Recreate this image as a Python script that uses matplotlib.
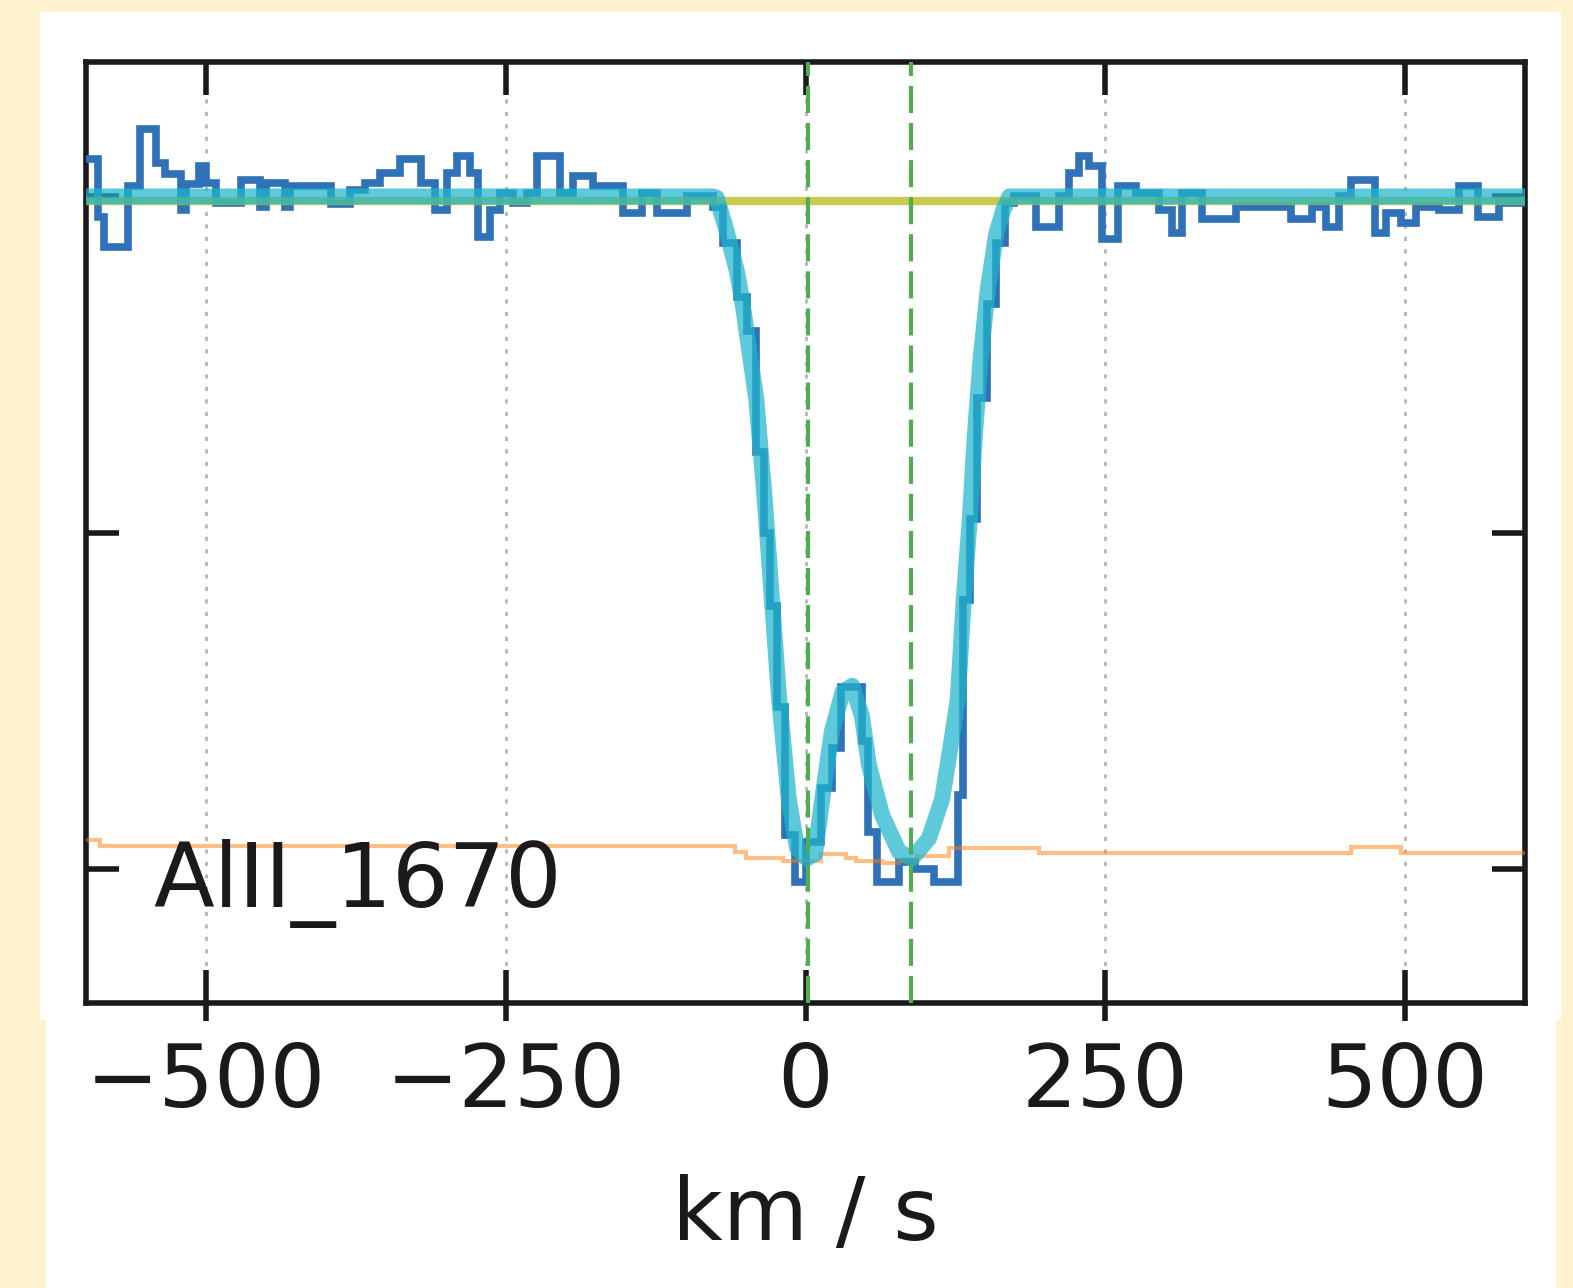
import numpy as np
import matplotlib
matplotlib.use("Agg")
import matplotlib.pyplot as plt
from matplotlib.patches import Rectangle

# ---- data (velocity in km/s, normalised flux) ----
flux_edges = [-600, -590, -585, -565, -555, -542, -534, -521, -517, -506, -500, -492,
              -471, -455, -450, -434, -430, -396, -380, -367, -355, -338, -321, -309,
              -299, -291, -280, -273, -263, -255, -244, -232, -224, -205, -194, -177,
              -152, -136, -124, -99, -77, -69, -57, -49, -41, -35, -30, -24, -17, -9,
              0, 13, 22, 30, 47, 52, 60, 78, 91, 107, 127, 131, 137, 143, 151, 159,
              166, 174, 192, 211, 220, 228, 236, 247, 261, 276, 295, 306, 314, 331,
              359, 378, 405, 422, 434, 445, 455, 475, 484, 497, 509, 528, 545, 561,
              578, 600]
flux_values = [1.055, 0.97, 0.925, 1.015, 1.10, 1.05, 1.033, 0.98, 1.018, 1.045, 1.02,
               0.99, 1.025, 0.985, 1.02, 0.985, 1.015, 0.988, 1.01, 1.02, 1.035, 1.055,
               1.02, 0.98, 1.035, 1.06, 1.035, 0.94, 0.98, 1.005, 0.99, 1.005, 1.06,
               1.005, 1.03, 1.015, 0.975, 1.005, 0.975, 1.0, 0.985, 0.93, 0.85, 0.80,
               0.62, 0.50, 0.39, 0.24, 0.05, -0.02, 0.04, 0.12, 0.18, 0.27, 0.19, 0.055,
               -0.02, 0.01, 0.0, -0.02, 0.11, 0.40, 0.52, 0.70, 0.84, 0.93, 0.99, 1.0,
               0.955, 1.0, 1.035, 1.06, 1.045, 0.936, 1.015, 1.005, 0.98, 0.946, 1.005,
               0.966, 0.985, 0.985, 0.966, 0.985, 0.955, 1.0, 1.025, 0.946, 0.975, 0.96,
               0.985, 0.98, 1.015, 0.97, 0.99]

error_edges = [-600, -588, -59, -50, -19, 13, 34, 42, 64, 78, 93, 120, 155, 195, 455, 497, 600]
error_values = [0.042, 0.033, 0.024, 0.016, 0.012, 0.021, 0.016, 0.012, 0.008, 0.012,
                0.019, 0.031, 0.031, 0.023, 0.032, 0.023]

model_v = [-600, -77, -74, -66, -57, -53, -41, -34, -28, -22, -14, -7, 1, 8, 14, 22, 31,
           39, 47, 53, 64, 78, 89, 103, 114, 122, 127, 132, 137, 141, 146, 152, 159,
           165, 170, 600]
model_f = [1.0, 1.0, 0.998, 0.95, 0.887, 0.847, 0.698, 0.55, 0.401, 0.253, 0.104, 0.03,
           0.015, 0.022, 0.104, 0.204, 0.263, 0.272, 0.227, 0.153, 0.079, 0.025, 0.015,
           0.045, 0.104, 0.193, 0.253, 0.401, 0.52, 0.639, 0.758, 0.862, 0.944, 0.98,
           1.0, 1.0]

continuum_v = [-600, 600]
continuum_f = [0.993, 0.993]

component_v = [2, 88]
xtick_vals = [-500, -250, 0, 250, 500]
ytick_vals = [0, 0.5, 1.0]
line_label = "AlII_1670"
x_label = "km / s"

# ---- figure ----
W, H, DPI = 1573, 1288, 100
fig = plt.figure(figsize=(W / DPI, H / DPI), dpi=DPI, facecolor="#FFF2D0")

def px_rect(x0, y0, x1, y1):
    return Rectangle((x0 / W, 1 - y1 / H), (x1 - x0) / W, (y1 - y0) / H,
                     transform=fig.transFigure, facecolor="white", edgecolor="none",
                     zorder=-1)

fig.patches.append(px_rect(40, 12, 1561, 1020))
fig.patches.append(px_rect(46, 1020, 1556, 1288))

ax = fig.add_axes([86 / W, 1 - 1003 / H, (1525 - 86) / W, (1003 - 62) / H])

ax.stairs(flux_values, flux_edges, color="#2f72b8", lw=5.5, baseline=None, zorder=3)
ax.plot(continuum_v, continuum_f, color="#bcbd22", alpha=0.8, lw=6, zorder=4)
ax.plot(model_v, model_f, color="#1fb5cc", alpha=0.72, lw=11.5, zorder=5,
        solid_joinstyle="round")
ax.stairs(error_values, error_edges, color="#ff7f0e", alpha=0.5, lw=3, baseline=None,
          zorder=4)
for v in component_v:
    ax.axvline(v, color="#4fae4f", lw=3, dashes=(6.5, 2.4), zorder=6)

ax.set_xlim(-600, 600)
ax.set_ylim(-0.2, 1.2)
ax.set_xticks(xtick_vals)
ax.set_xticklabels(["\u2212500", "\u2212250", "0", "250", "500"])
ax.set_yticks(ytick_vals)
ax.set_yticklabels([])
ax.grid(axis="x", color="#b5b5b5", lw=2, linestyle=(0, (1.5, 3)))
ax.grid(axis="y", visible=False)
ax.set_axisbelow(True)

for s in ax.spines.values():
    s.set_linewidth(4)
    s.set_color("#1a1a1a")

ax.tick_params(which="major", direction="in", length=24, width=4, color="#1a1a1a",
               top=True, right=True, labelsize=63, labelcolor="#1a1a1a", pad=27)
# outward stubs on the bottom axis
ax.xaxis.remove_overlapping_locs = False
ax.set_xticks(xtick_vals, minor=True)
ax.tick_params(which="minor", axis="x", direction="out", length=13, width=4,
               color="#1a1a1a", top=False, bottom=True)

ax.set_xlabel(x_label, fontsize=63, color="#1a1a1a", labelpad=36)
ax.text(-544, -0.0565, line_label, fontsize=64, color="#1a1a1a", va="baseline",
        ha="left", zorder=7)

fig.savefig("out.png", dpi=DPI, facecolor=fig.get_facecolor())
